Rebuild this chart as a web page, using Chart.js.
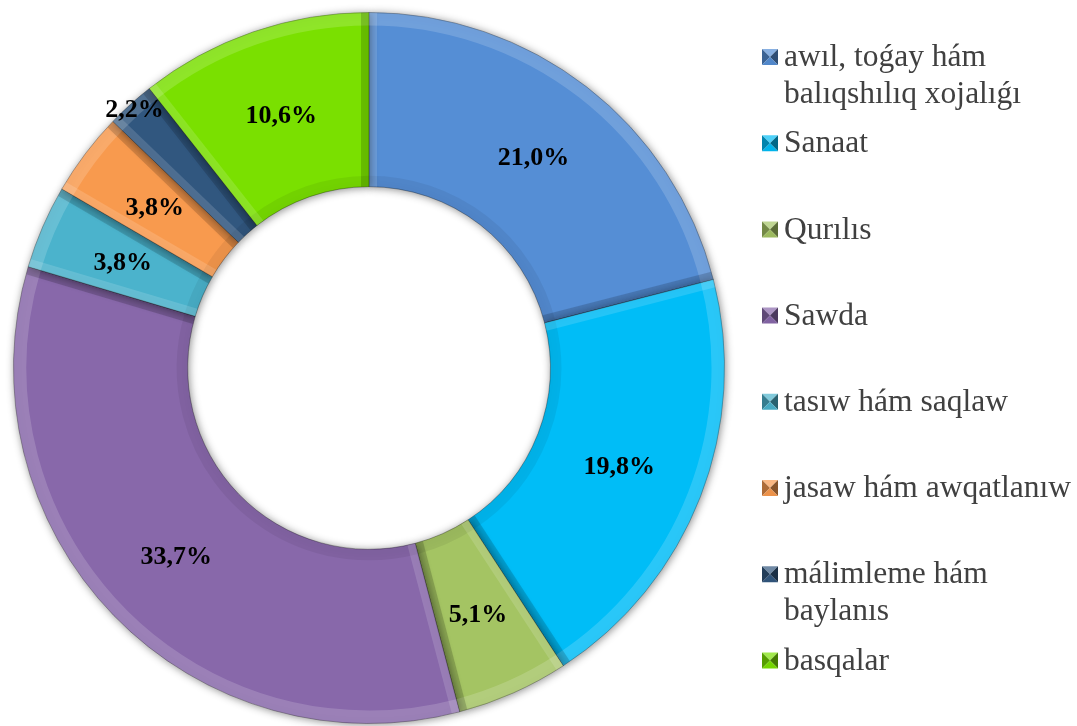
<!DOCTYPE html>
<html>
<head>
<meta charset="utf-8">
<script src="https://cdn.jsdelivr.net/npm/chart.js@4/dist/chart.umd.min.js"></script>
<style>
  html, body { margin: 0; padding: 0; background: #fff; }
  #wrap { width: 1077px; height: 726px; }
</style>
</head>
<body>
<div id="wrap"><canvas id="chart" width="1077" height="726"></canvas></div>
<script>
// sector names (legend), some wrap onto two lines
const categories = [
    ['awıl, toǵay hám', 'balıqshılıq xojalıǵı'],
    ['Sanaat'],
    ['Qurılıs'],
    ['Sawda'],
    ['tasıw hám saqlaw'],
    ['jasaw hám awqatlanıw'],
    ['málimleme hám', 'baylanıs'],
    ['basqalar']
];
const shares = [21.0, 19.8, 5.1, 33.7, 3.8, 3.8, 2.2, 10.6];
const colors = ['#558ed5', '#00bdf7', '#a4c463', '#8868aa', '#4bb3cc', '#f89a4e', '#31577f', '#7ae000'];

function shade(hex, amt) {
    const n = parseInt(hex.slice(1), 16);
    let r = (n >> 16) & 255, g = (n >> 8) & 255, b = n & 255;
    const f = v => Math.max(0, Math.min(255, Math.round(amt >= 0 ? v + (255 - v) * amt : v * (1 + amt))));
    return `rgb(${f(r)},${f(g)},${f(b)})`;
}

// soft drop shadow under the ring
const shadowPlugin = {
    id: 'ringShadow',
    beforeDatasetsDraw(chart) {
        const ctx = chart.ctx;
        ctx.save();
        ctx.shadowColor = 'rgba(0,0,0,0.45)';
        ctx.shadowBlur = 9;
        ctx.shadowOffsetX = 1;
        ctx.shadowOffsetY = 1;
    },
    afterDatasetsDraw(chart) {
        chart.ctx.restore();
    }
};

// bevel look on each slice + percent labels
const bevelPlugin = {
    id: 'bevelLabels',
    afterDatasetsDraw(chart) {
        const ctx = chart.ctx;
        const meta = chart.getDatasetMeta(0);
        meta.data.forEach((arc, i) => {
            const { x, y, startAngle, endAngle, innerRadius, outerRadius } = arc.getProps(['x', 'y', 'startAngle', 'endAngle', 'innerRadius', 'outerRadius'], true);
            ctx.save();
            ctx.beginPath();
            ctx.arc(x, y, outerRadius, startAngle, endAngle);
            ctx.arc(x, y, innerRadius, endAngle, startAngle, true);
            ctx.closePath();
            ctx.clip();
            // outer rim highlight
            ctx.beginPath();
            ctx.arc(x, y, outerRadius - 6, startAngle, endAngle);
            ctx.lineWidth = 14;
            ctx.strokeStyle = 'rgba(255,255,255,0.16)';
            ctx.stroke();
            // inner rim slightly darker
            ctx.beginPath();
            ctx.arc(x, y, innerRadius + 5, startAngle, endAngle);
            ctx.lineWidth = 12;
            ctx.strokeStyle = 'rgba(0,0,0,0.06)';
            ctx.stroke();
            // radial sides
            [[startAngle, 'rgba(255,255,255,0.14)'], [endAngle, 'rgba(0,0,0,0.16)']].forEach(([a, c]) => {
                ctx.beginPath();
                ctx.moveTo(x + Math.cos(a) * innerRadius, y + Math.sin(a) * innerRadius);
                ctx.lineTo(x + Math.cos(a) * outerRadius, y + Math.sin(a) * outerRadius);
                ctx.lineWidth = 16;
                ctx.strokeStyle = c;
                ctx.stroke();
            });
            ctx.restore();
        });

        ctx.save();
        ctx.font = 'bold 26px "Liberation Serif", "Times New Roman", serif';
        ctx.fillStyle = '#000';
        ctx.textAlign = 'center';
        ctx.textBaseline = 'middle';
        meta.data.forEach((arc, i) => {
            const { x, y, startAngle, endAngle, innerRadius, outerRadius } = arc.getProps(['x', 'y', 'startAngle', 'endAngle', 'innerRadius', 'outerRadius'], true);
            const mid = (startAngle + endAngle) / 2;
            const v = chart.data.datasets[0].data[i];
            const r = v < 3 ? outerRadius - 6 : (innerRadius + outerRadius) / 2;
            const txt = v.toFixed(1).replace('.', ',') + '%';
            ctx.fillText(txt, x + Math.cos(mid) * r, y + Math.sin(mid) * r + 2);
        });
        ctx.restore();
    }
};

// legend on the right with bevelled square markers
const legendPlugin = {
    id: 'sideLegend',
    afterDraw(chart) {
        const ctx = chart.ctx;
        const boxX = 762, textX = 784, top = 57, step = 86.2, lineGap = 37, box = 16;
        ctx.save();
        ctx.font = '31.5px "Liberation Serif", "Times New Roman", serif';
        ctx.textBaseline = 'middle';
        ctx.textAlign = 'left';
        chart.data.labels.forEach((lines, i) => {
            const cy = top + i * step;
            const c = colors[i];
            const bx = boxX, by = cy - box / 2;
            const mx = bx + box / 2, my = by + box / 2;
            const tri = (pts, col) => {
                ctx.beginPath();
                ctx.moveTo(pts[0][0], pts[0][1]);
                pts.slice(1).forEach(p => ctx.lineTo(p[0], p[1]));
                ctx.closePath();
                ctx.fillStyle = col;
                ctx.fill();
            };
            tri([[bx, by], [bx + box, by], [mx, my]], shade(c, 0.3));
            tri([[bx, by], [bx, by + box], [mx, my]], shade(c, -0.3));
            tri([[bx + box, by], [bx + box, by + box], [mx, my]], shade(c, -0.45));
            tri([[bx, by + box], [bx + box, by + box], [mx, my]], shade(c, -0.05));
            ctx.fillStyle = '#404040';
            lines.forEach((t, k) => ctx.fillText(t, textX, cy + 1 + k * lineGap));
        });
        ctx.restore();
    }
};

new Chart(document.getElementById('chart'), {
    type: 'doughnut',
    data: {
        labels: categories,
        datasets: [{
            data: shares,
            backgroundColor: colors,
            borderColor: 'rgba(0,0,0,0.3)',
            borderWidth: 1
        }]
    },
    options: {
        responsive: false,
        animation: false,
        cutout: '51%',
        layout: { padding: { left: 13, top: 12, right: 352, bottom: 2 } },
        plugins: {
            legend: { display: false },
            tooltip: { enabled: false }
        }
    },
    plugins: [shadowPlugin, bevelPlugin, legendPlugin]
});
</script>
</body>
</html>
